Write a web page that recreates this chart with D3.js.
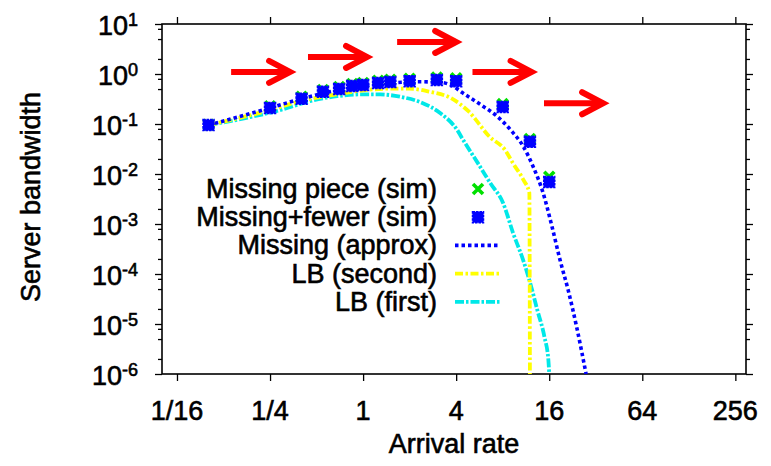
<!DOCTYPE html>
<html>
<head>
<meta charset="utf-8">
<script src="https://cdn.jsdelivr.net/npm/d3@7"></script>
<style>
  body { margin: 0; background: #fff; }
  text { font-family: "Liberation Sans", Arial, sans-serif; fill: #000; stroke: #000; stroke-width: 0.6px; }
</style>
</head>
<body>
<div id="chart"></div>
<script>
// simulation points (x = arrival rate)
const simX = [0.1, 0.25, 0.4, 0.55, 0.7, 0.85, 1, 1.25, 1.5, 2, 3, 4, 8, 12, 16];
const missingPieceSim = [0.097, 0.225, 0.35, 0.48, 0.55, 0.63, 0.66, 0.73, 0.77, 0.80, 0.85, 0.82, 0.25, 0.05, 0.0088];
const missingFewerSim = [0.095, 0.21, 0.32, 0.44, 0.50, 0.575, 0.60, 0.66, 0.69, 0.72, 0.76, 0.72, 0.22, 0.044, 0.0069];

// Missing (approx)
const approxX = [0.1, 0.25, 0.4, 0.7, 1, 1.5, 2.3, 3.2, 3.7, 4.4, 5.8, 7.4, 9, 10.9, 12.6, 14.6, 16.7, 18.8, 21.2, 24.3, 27.7];
const approxY = [0.095, 0.21, 0.32, 0.48, 0.58, 0.66, 0.70, 0.68, 0.60, 0.42, 0.24, 0.14, 0.076, 0.035, 0.014, 0.0042, 0.00087, 0.00019, 4.8e-5, 7.6e-6, 1e-6];

// LB (second)
const lbSecondX = [0.1, 0.25, 0.4, 0.7, 1, 1.5, 2, 2.7, 3.7, 4.8, 6.6, 8.3, 9.3, 10.9, 11.9, 12.0];
const lbSecondY = [0.095, 0.19, 0.29, 0.40, 0.47, 0.51, 0.51, 0.44, 0.33, 0.18, 0.055, 0.030, 0.0166, 0.0076, 0.0042, 1e-6];

// LB (first)
const lbFirstX = [0.1, 0.29, 0.48, 0.68, 0.96, 1.29, 1.74, 2.34, 3.15, 4.06, 4.44, 5.73, 6.64, 8.06, 9.34, 10.85, 12.05, 13.4, 14.9, 15.8, 16.0];
const lbFirstY = [0.095, 0.19, 0.30, 0.36, 0.39, 0.39, 0.35, 0.275, 0.166, 0.076, 0.048, 0.0138, 0.0066, 0.0026, 6.6e-4, 1.9e-4, 6.6e-5, 1.9e-5, 5.5e-6, 1.9e-6, 1e-6];

// red arrows
const arrowX0 = [0.14, 0.44, 1.66, 5.1, 14.8];
const arrowX1 = [0.337, 1.06, 4.0, 12.3, 35.7];
const arrowY = [1.1, 2.19, 4.37, 1.1, 0.26];

const xTickValues = [1/16, 1/4, 1, 4, 16, 64, 256];
const xTickLabels = ["1/16", "1/4", "1", "4", "16", "64", "256"];
const yTickExponents = [1, 0, -1, -2, -3, -4, -5, -6];
const yMinorMantissas = [2, 5, 8];

const legendLabels = ["Missing piece (sim)", "Missing+fewer (sim)", "Missing (approx)", "LB (second)", "LB (first)"];

// layout
const W = 771, H = 466;
const plot = { left: 162, right: 746, top: 24, bottom: 374 };

const svg = d3.select("#chart").append("svg")
    .attr("width", W)
    .attr("height", H);

const x = d3.scaleLog().base(2).domain([0.05, 300]).range([plot.left, plot.right]);
const y = d3.scaleLog().domain([1e-6, 10]).range([plot.bottom, plot.top]);

// axes (ticks pointing outward, on all four sides)
const minorY = [];
yTickExponents.forEach(e => {
    yMinorMantissas.forEach(m => {
        const v = m * Math.pow(10, e);
        if (v > 1e-6 && v < 10) minorY.push(v);
    });
});
const yMajor = yTickExponents.map(e => Math.pow(10, e));

function styleAxis(g) {
    g.select(".domain").remove();
    g.selectAll(".tick line").attr("stroke", "#000").attr("stroke-width", 1.3);
    g.selectAll(".tick text").remove();
}

svg.append("g").attr("transform", `translate(0,${plot.bottom})`)
    .call(d3.axisBottom(x).tickValues(xTickValues).tickSize(7)).call(styleAxis);
svg.append("g").attr("transform", `translate(0,${plot.top})`)
    .call(d3.axisTop(x).tickValues(xTickValues).tickSize(7)).call(styleAxis);
svg.append("g").attr("transform", `translate(${plot.left},0)`)
    .call(d3.axisLeft(y).tickValues(yMajor).tickSize(7)).call(styleAxis);
svg.append("g").attr("transform", `translate(${plot.left},0)`)
    .call(d3.axisLeft(y).tickValues(minorY).tickSize(4)).call(styleAxis);
svg.append("g").attr("transform", `translate(${plot.right},0)`)
    .call(d3.axisRight(y).tickValues(yMajor).tickSize(7)).call(styleAxis);
svg.append("g").attr("transform", `translate(${plot.right},0)`)
    .call(d3.axisRight(y).tickValues(minorY).tickSize(4)).call(styleAxis);

svg.append("rect")
    .attr("x", plot.left).attr("y", plot.top)
    .attr("width", plot.right - plot.left).attr("height", plot.bottom - plot.top)
    .attr("fill", "none").attr("stroke", "#000").attr("stroke-width", 1.6);

// tick labels
svg.append("g").selectAll("text")
    .data(xTickValues)
    .join("text")
    .attr("x", d => x(d))
    .attr("y", 420)
    .attr("text-anchor", "middle")
    .style("font-size", "27px")
    .text((d, i) => xTickLabels[i]);

const yLabels = svg.append("g").selectAll("text")
    .data(yTickExponents)
    .join("text")
    .attr("x", 138)
    .attr("y", d => y(Math.pow(10, d)) + 11)
    .attr("text-anchor", "end")
    .style("font-size", "27px");
yLabels.append("tspan").text("10");
yLabels.append("tspan").attr("dy", -9).style("font-size", "18px").text(d => d);

svg.append("text")
    .attr("x", (plot.left + plot.right) / 2)
    .attr("y", 453)
    .attr("text-anchor", "middle")
    .style("font-size", "27px")
    .text("Arrival rate");

svg.append("text")
    .attr("transform", "translate(40,197) rotate(-90)")
    .attr("text-anchor", "middle")
    .style("font-size", "27px")
    .text("Server bandwidth");

// clip for curves
svg.append("clipPath").attr("id", "plot-clip")
    .append("rect")
    .attr("x", plot.left).attr("y", plot.top)
    .attr("width", plot.right - plot.left).attr("height", plot.bottom - plot.top);

const inner = svg.append("g").attr("clip-path", "url(#plot-clip)");

const line = d3.line()
    .x(d => x(d[0]))
    .y(d => y(d[1]))
    .curve(d3.curveMonotoneX);

const styles = {
    approx: { color: "#0000ff", dash: "3.5,3", width: 3.6 },
    second: { color: "#ffff00", dash: "8,2.5,2.5,2.5", width: 3.8 },
    first:  { color: "#00e8e8", dash: "9,2,2.5,2", width: 3.8 }
};

function drawCurve(xs, ys, s) {
    inner.append("path")
        .datum(xs.map((v, i) => [v, ys[i]]))
        .attr("d", line)
        .attr("fill", "none")
        .attr("stroke", s.color)
        .attr("stroke-width", s.width)
        .attr("stroke-dasharray", s.dash);
}

drawCurve(lbFirstX, lbFirstY, styles.first);
drawCurve(lbSecondX, lbSecondY, styles.second);
drawCurve(approxX, approxY, styles.approx);

// markers
function greenCross(g, cx, cy) {
    g.append("path")
        .attr("d", `M${cx - 5},${cy - 5}L${cx + 5},${cy + 5}M${cx - 5},${cy + 5}L${cx + 5},${cy - 5}`)
        .attr("stroke", "#00e000")
        .attr("stroke-width", 3.6)
        .attr("fill", "none");
}
function blueSquare(g, cx, cy) {
    g.append("rect")
        .attr("x", cx - 5.5).attr("y", cy - 5.5)
        .attr("width", 11).attr("height", 11)
        .attr("fill", "#0000ff")
        .attr("stroke", "#0000ff")
        .attr("stroke-width", 1.5)
        .attr("stroke-dasharray", "2.5,1");
}

const markers = svg.append("g");
simX.forEach((v, i) => greenCross(markers, x(v), y(missingPieceSim[i])));
simX.forEach((v, i) => blueSquare(markers, x(v), y(missingFewerSim[i])));

// red arrows
const arrows = svg.append("g")
    .attr("stroke", "#ff0000")
    .attr("stroke-width", 6)
    .attr("fill", "none");
arrowY.forEach((v, i) => {
    const x0 = x(arrowX0[i]), x1 = x(arrowX1[i]), yy = y(v);
    arrows.append("line")
        .attr("x1", x0).attr("x2", x1 - 4)
        .attr("y1", yy).attr("y2", yy);
    arrows.append("path")
        .attr("d", `M${x1 - 21},${yy - 11}L${x1},${yy}L${x1 - 21},${yy + 11}`)
        .attr("stroke-linejoin", "miter")
        .attr("stroke-linecap", "round");
});

// legend
const legendTextX = 437, legendBase = 198, legendStep = 28.2;
const legend = svg.append("g");
legendLabels.forEach((label, i) => {
    const by = legendBase + i * legendStep;
    legend.append("text")
        .attr("x", legendTextX)
        .attr("y", by)
        .attr("text-anchor", "end")
        .style("font-size", "27px")
        .text(label);
    const cy = by - 9;
    if (i === 0) greenCross(legend, 478, cy);
    else if (i === 1) blueSquare(legend, 478, cy);
    else {
        const s = [styles.approx, styles.second, styles.first][i - 2];
        legend.append("line")
            .attr("x1", 455).attr("x2", 500)
            .attr("y1", cy).attr("y2", cy)
            .attr("stroke", s.color)
            .attr("stroke-width", s.width)
            .attr("stroke-dasharray", s.dash);
    }
});
</script>
</body>
</html>
